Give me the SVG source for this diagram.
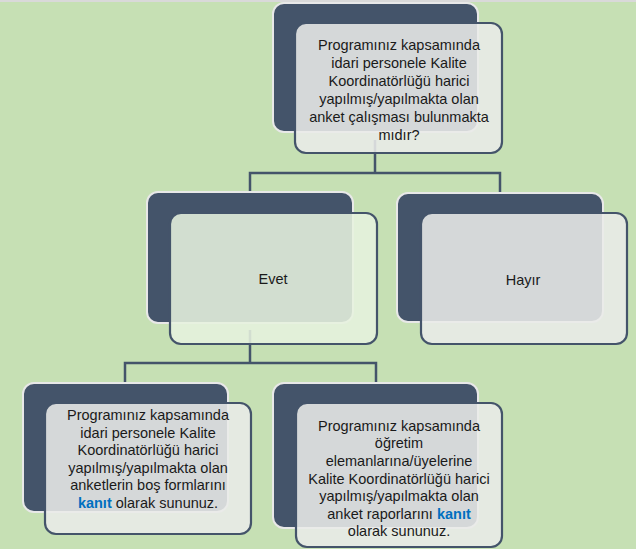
<svg xmlns="http://www.w3.org/2000/svg" width="636" height="549" viewBox="0 0 636 549">
<style>
.back{fill:#44546a;stroke:#e8e8e8;stroke-width:2}
.front{fill:#e9eae8;fill-opacity:0.88;stroke:#44546a;stroke-width:2.2}
.frontg{fill:#e6f1de;fill-opacity:0.88;stroke:#44546a;stroke-width:2.2}
.conn{fill:none;stroke:#44546a;stroke-width:2.5}
text{font-family:"Liberation Sans",Arial,sans-serif;font-size:14.5px;fill:#1a1a1a;text-anchor:middle}
.k{fill:#0070c0;font-weight:bold}
</style>
<rect x="0" y="0" width="636" height="549" fill="#c6e0b4"/>
<rect x="0" y="0" width="636" height="2" fill="#d9d9d9"/>
<g id="connectors">
<path class="conn" d="M375 140 V173 H250 V192 M375 173 H500 V193"/>
<path class="conn" d="M250 330 V363 H125 V383 M250 363 H376 V383"/>
</g>
<g id="n1">
<rect class="back" x="273" y="3" width="205" height="129" rx="11"/>
<rect class="front" x="295" y="23" width="207" height="130" rx="11"/>
<text x="399" y="50">Programınız kapsamında</text>
<text x="399" y="68">idari personele Kalite</text>
<text x="399" y="86">Koordinatörlüğü harici</text>
<text x="399" y="104">yapılmış/yapılmakta olan</text>
<text x="399" y="121.5">anket çalışması bulunmakta</text>
<text x="399" y="139.5">mıdır?</text>
</g>
<g id="n2">
<rect class="back" x="147" y="192" width="206" height="131" rx="11"/>
<rect class="frontg" x="170" y="213" width="207" height="131" rx="11"/>
<text x="273" y="284">Evet</text>
</g>
<g id="n3">
<rect class="back" x="397" y="193" width="206" height="129" rx="11"/>
<rect class="front" x="421" y="213" width="206" height="131" rx="11"/>
<text x="523" y="285">Hayır</text>
</g>
<g id="n4">
<rect class="back" x="23" y="383" width="205" height="129" rx="11"/>
<rect class="front" x="45" y="403" width="206" height="131" rx="11"/>
<text x="148" y="420">Programınız kapsamında</text>
<text x="148" y="437.5">idari personele Kalite</text>
<text x="148" y="455">Koordinatörlüğü harici</text>
<text x="148" y="473">yapılmış/yapılmakta olan</text>
<text x="148" y="490">anketlerin boş formlarını</text>
<text x="148" y="507.5"><tspan class="k">kanıt</tspan> olarak sununuz.</text>
</g>
<g id="n5">
<rect class="back" x="273" y="383" width="205" height="145" rx="11"/>
<rect class="front" x="296" y="403" width="206" height="144" rx="11"/>
<text x="399" y="431">Programınız kapsamında</text>
<text x="399" y="448">öğretim</text>
<text x="399" y="466">elemanlarına/üyelerine</text>
<text x="399" y="484">Kalite Koordinatörlüğü harici</text>
<text x="399" y="501">yapılmış/yapılmakta olan</text>
<text x="399" y="519">anket raporlarını <tspan class="k">kanıt</tspan></text>
<text x="399" y="536">olarak sununuz.</text>
</g>
</svg>
